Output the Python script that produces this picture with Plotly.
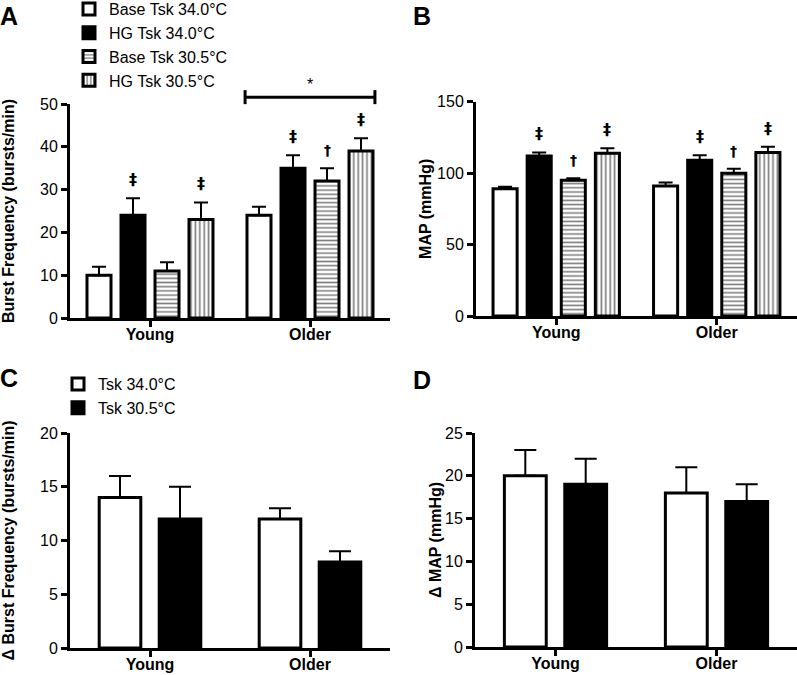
import plotly.graph_objects as go

groups = ["Young", "Older"]

# Panel A: burst frequency (bursts/min), mean and upper SE
bf_base_34 = [10, 24]
bf_base_34_se = [2, 2]
bf_hg_34 = [24, 35]
bf_hg_34_se = [4, 3]
bf_base_305 = [11, 32]
bf_base_305_se = [2, 3]
bf_hg_305 = [23, 39]
bf_hg_305_se = [4, 3]
bf_sig = [["", ""], ["‡", "‡"], ["", "†"], ["‡", "‡"]]

# Panel B: MAP (mmHg)
map_base_34 = [89, 91]
map_base_34_se = [1.5, 2.5]
map_hg_34 = [112, 109]
map_hg_34_se = [2.5, 3.5]
map_base_305 = [95, 100]
map_base_305_se = [1.5, 3]
map_hg_305 = [114, 114.5]
map_hg_305_se = [3.5, 4]
map_sig = [["", ""], ["‡", "‡"], ["†", "†"], ["‡", "‡"]]

# Panel C: delta burst frequency
dbf_34 = [14, 12]
dbf_34_se = [2, 1]
dbf_305 = [12, 8]
dbf_305_se = [3, 1]

# Panel D: delta MAP
dmap_34 = [20, 18]
dmap_34_se = [3, 3]
dmap_305 = [19, 17]
dmap_305_se = [3, 2]

names4 = ["Base Tsk 34.0°C", "HG Tsk 34.0°C", "Base Tsk 30.5°C", "HG Tsk 30.5°C"]
names2 = ["Tsk 34.0°C", "Tsk 30.5°C"]

FONT = "Arial, Liberation Sans, Helvetica, sans-serif"
SYMFONT = "DejaVu Sans, Arial, sans-serif"
W4, C4 = 0.15, [-0.31875, -0.10625, 0.10625, 0.31875]
W2, C2 = 0.26, [-0.1875, 0.1875]

styles4 = [
    dict(color="white"),
    dict(color="black"),
    dict(color="white", pattern=dict(shape="-", size=4.2, solidity=0.38, fgcolor="black", bgcolor="white")),
    dict(color="white", pattern=dict(shape="|", size=4.4, solidity=0.38, fgcolor="black", bgcolor="white")),
]
styles2 = [dict(color="white"), dict(color="black")]

fig = go.Figure()


def add_bars(vals, ses, names, styles, centers, width, xa, ya, legend, show, caps):
    for i, (v, s) in enumerate(zip(vals, ses)):
        m = dict(styles[i])
        m["line"] = dict(color="black", width=3)
        fig.add_trace(go.Bar(
            x=groups, y=v, name=names[i], marker=m,
            width=width, offset=centers[i] - width / 2,
            error_y=dict(type="data", array=s, arrayminus=[0] * len(s), symmetric=False,
                         color="black", thickness=2, width=caps),
            xaxis=xa, yaxis=ya, showlegend=show, legend=legend,
            legendgroup=legend + str(i),
        ))


add_bars([bf_base_34, bf_hg_34, bf_base_305, bf_hg_305],
         [bf_base_34_se, bf_hg_34_se, bf_base_305_se, bf_hg_305_se],
         names4, styles4, C4, W4, "x", "y", "legend", True, 7)
add_bars([map_base_34, map_hg_34, map_base_305, map_hg_305],
         [map_base_34_se, map_hg_34_se, map_base_305_se, map_hg_305_se],
         names4, styles4, C4, W4, "x2", "y2", "legend", False, 7)
add_bars([dbf_34, dbf_305], [dbf_34_se, dbf_305_se],
         names2, styles2, C2, W2, "x3", "y3", "legend2", True, 11)
add_bars([dmap_34, dmap_305], [dmap_34_se, dmap_305_se],
         names2, styles2, C2, W2, "x4", "y4", "legend2", False, 11)

annotations = []


def add_sig(vals, ses, sig, xref, yref):
    for i in range(len(vals)):
        for g in range(len(groups)):
            t = sig[i][g]
            if not t:
                continue
            annotations.append(dict(
                x=g + C4[i], y=vals[i][g] + ses[i][g], xref=xref, yref=yref,
                text=f"<b>{t}</b>", showarrow=False, yanchor="bottom",
                yshift=7 if t == "‡" else 8,
                font=dict(family=SYMFONT, size=16 if t == "‡" else 14, color="#000000")))


add_sig([bf_base_34, bf_hg_34, bf_base_305, bf_hg_305],
        [bf_base_34_se, bf_hg_34_se, bf_base_305_se, bf_hg_305_se], bf_sig, "x", "y")
add_sig([map_base_34, map_hg_34, map_base_305, map_hg_305],
        [map_base_34_se, map_hg_34_se, map_base_305_se, map_hg_305_se], map_sig, "x2", "y2")

# domains (paper fractions)
dA_x, dA_y = [70 / 797, 390 / 797], [1 - 318 / 675, 1 - 104 / 675]
dB_x, dB_y = [476 / 797, 1.0], [1 - 316 / 675, 1 - 101.7 / 675]
dC_x, dC_y = [70 / 797, 390 / 797], [1 - 648 / 675, 1 - 433 / 675]
dD_x, dD_y = [475 / 797, 1.0], [1 - 647 / 675, 1 - 433 / 675]

# significance bracket over the older group in panel A
bracket_level = 51.6
by = dA_y[0] + bracket_level / 50 * (dA_y[1] - dA_y[0])
bx0 = 1 + C4[0] - W4 / 2 - 0.012
bx1 = 1 + C4[-1] + W4 / 2 + 0.012
tick = 7 / 675
shapes = [
    dict(type="line", xref="x", yref="paper", x0=bx0, x1=bx1, y0=by, y1=by, line=dict(color="black", width=3)),
    dict(type="line", xref="x", yref="paper", x0=bx0, x1=bx0, y0=by - tick, y1=by + tick, line=dict(color="black", width=3)),
    dict(type="line", xref="x", yref="paper", x0=bx1, x1=bx1, y0=by - tick, y1=by + tick, line=dict(color="black", width=3)),
]
annotations.append(dict(x=1, y=by, xref="x", yref="paper", text="*", showarrow=False,
                        yanchor="bottom", yshift=2, font=dict(family=FONT, size=16, color="black")))

# panel letters (top edge of text box given in px)
for letter, px, py in [("A", 9, 0), ("B", 422, 0), ("C", 9, 362), ("D", 422, 364)]:
    annotations.append(dict(x=px / 797, y=1 - py / 675, xref="paper", yref="paper", text=f"<b>{letter}</b>",
                            showarrow=False, xanchor="center", yanchor="top",
                            font=dict(family=FONT, size=25, color="black")))

common_x = dict(type="category", range=[-0.5, 1.5], showline=True, linewidth=3, linecolor="black",
                ticks="outside", ticklen=6, tickwidth=3, tickcolor="black", showgrid=False, zeroline=False,
                tickfont=dict(family=FONT, size=16, color="black"), fixedrange=True,
                ticklabelstandoff=-6)
common_y = dict(showline=True, linewidth=3, linecolor="black", ticks="outside", ticklen=6, tickwidth=3,
                tickcolor="black", showgrid=False, zeroline=False,
                tickfont=dict(family=FONT, size=16, color="black"), fixedrange=True)


def ytitle(t, standoff):
    return dict(text=f"<b>{t}</b>", font=dict(family=FONT, size=16, color="black"), standoff=standoff)


fig.update_layout(
    width=797, height=675, margin=dict(l=0, r=0, t=0, b=0, autoexpand=False),
    paper_bgcolor="white", plot_bgcolor="white", barmode="overlay",
    xaxis=dict(common_x, domain=dA_x, anchor="y",
               tickvals=groups, ticktext=[f"<b>{g}</b>" for g in groups]),
    yaxis=dict(common_y, domain=dA_y, anchor="x", range=[0, 50], tickvals=[0, 10, 20, 30, 40, 50],
               title=ytitle("Burst Frequency (bursts/min)", 35)),
    xaxis2=dict(common_x, domain=dB_x, anchor="y2",
                tickvals=groups, ticktext=[f"<b>{g}</b>" for g in groups]),
    yaxis2=dict(common_y, domain=dB_y, anchor="x2", range=[0, 150], tickvals=[0, 50, 100, 150],
                title=ytitle("MAP (mmHg)", 2)),
    xaxis3=dict(common_x, domain=dC_x, anchor="y3",
                tickvals=groups, ticktext=[f"<b>{g}</b>" for g in groups]),
    yaxis3=dict(common_y, domain=dC_y, anchor="x3", range=[0, 20], tickvals=[0, 5, 10, 15, 20],
                title=ytitle("Δ Burst Frequency (bursts/min)", 34)),
    xaxis4=dict(common_x, domain=dD_x, anchor="y4",
                tickvals=groups, ticktext=[f"<b>{g}</b>" for g in groups]),
    yaxis4=dict(common_y, domain=dD_y, anchor="x4", range=[0, 25], tickvals=[0, 5, 10, 15, 20, 25],
                title=ytitle("Δ MAP (mmHg)", 0)),
    legend=dict(x=69 / 797, y=1 + 8 / 675, xanchor="left", yanchor="top", bgcolor="rgba(0,0,0,0)",
                font=dict(family=FONT, size=16, color="black"), tracegroupgap=0, traceorder="normal"),
    legend2=dict(x=58 / 797, y=1 - 367 / 675, xanchor="left", yanchor="top", bgcolor="rgba(0,0,0,0)",
                 font=dict(family=FONT, size=16, color="black"), tracegroupgap=2, traceorder="normal"),
    annotations=annotations, shapes=shapes, showlegend=True,
)

fig.write_html("out.html", config={"displayModeBar": False},
               post_script="document.body.style.margin='0px';")
